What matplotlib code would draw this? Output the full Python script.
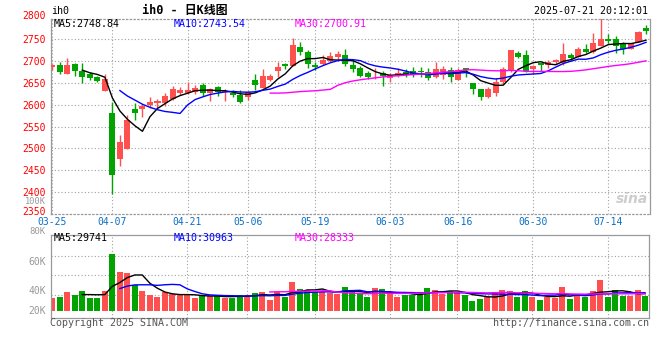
import matplotlib
matplotlib.use('Agg')
import matplotlib.pyplot as plt
import numpy as np
import pandas as pd

plt.rcParams['font.family'] = ['DejaVu Sans Mono', 'Noto Sans CJK SC']
plt.rcParams['font.size'] = 7.2

# trading days 03-25 .. 07-21 (CN holidays removed)
holidays = ['2025-04-04', '2025-05-01', '2025-05-02', '2025-05-05', '2025-06-02']
days = pd.bdate_range('2025-03-25', '2025-07-21').drop(pd.to_datetime(holidays))
tick_dates = ['03-25', '04-07', '04-21', '05-06', '05-19', '06-03', '06-16', '06-30', '07-14']

opens = [2687, 2691, 2671, 2693, 2676, 2670, 2663, 2632, 2581, 2476,
         2499, 2590, 2590, 2600, 2605, 2605, 2614, 2626, 2627, 2628,
         2645, 2627, 2640, 2630, 2626, 2622, 2617, 2656, 2639, 2657,
         2676, 2692, 2689, 2732, 2720, 2691, 2693, 2701, 2708, 2714,
         2691, 2683, 2673, 2672, 2672, 2660, 2666, 2675, 2678, 2676,
         2674, 2663, 2668, 2679, 2657, 2684, 2650, 2636, 2618, 2627,
         2653, 2677, 2718, 2714, 2681, 2695, 2691, 2697, 2696, 2713,
         2710, 2728, 2721, 2735, 2750, 2750, 2739, 2727, 2744, 2776]
highs = [2692, 2698, 2707, 2696, 2695, 2675, 2666, 2670, 2607, 2531,
         2576, 2605, 2601, 2618, 2613, 2627, 2643, 2640, 2652, 2644,
         2650, 2638, 2643, 2636, 2634, 2634, 2632, 2670, 2682, 2671,
         2698, 2696, 2753, 2743, 2725, 2698, 2714, 2720, 2723, 2727,
         2704, 2689, 2678, 2683, 2678, 2672, 2683, 2682, 2687, 2687,
         2685, 2698, 2689, 2687, 2685, 2684, 2650, 2636, 2641, 2662,
         2687, 2725, 2723, 2725, 2691, 2696, 2702, 2704, 2741, 2718,
         2731, 2739, 2765, 2798, 2761, 2757, 2744, 2741, 2769, 2782]
lows = [2680, 2671, 2671, 2666, 2650, 2656, 2651, 2632, 2396, 2460,
        2499, 2565, 2572, 2592, 2592, 2598, 2611, 2622, 2624, 2624,
        2620, 2608, 2620, 2608, 2617, 2605, 2611, 2634, 2638, 2655,
        2664, 2681, 2689, 2714, 2685, 2679, 2691, 2698, 2700, 2689,
        2674, 2663, 2658, 2658, 2643, 2653, 2663, 2664, 2664, 2663,
        2657, 2660, 2659, 2653, 2657, 2663, 2624, 2611, 2615, 2620,
        2647, 2675, 2706, 2675, 2670, 2678, 2683, 2693, 2691, 2702,
        2708, 2718, 2719, 2734, 2741, 2719, 2716, 2727, 2743, 2762]
closes = [2690, 2674, 2691, 2676, 2664, 2660, 2655, 2659, 2439, 2515,
          2565, 2581, 2596, 2606, 2609, 2620, 2635, 2634, 2633, 2638,
          2626, 2636, 2628, 2632, 2622, 2607, 2629, 2645, 2666, 2666,
          2687, 2689, 2737, 2720, 2694, 2687, 2702, 2711, 2716, 2692,
          2682, 2666, 2664, 2673, 2666, 2667, 2673, 2671, 2670, 2674,
          2660, 2682, 2682, 2664, 2679, 2679, 2636, 2617, 2636, 2653,
          2681, 2724, 2710, 2677, 2689, 2691, 2698, 2702, 2717, 2706,
          2728, 2721, 2742, 2751, 2746, 2734, 2727, 2741, 2767, 2769]
volumes = [22000, 23700, 32200, 27100, 33900, 22000, 22000, 33900, 96600, 66100,
           64400, 44100, 33900, 27100, 23700, 32200, 28800, 27100, 27100, 22000,
           25400, 25400, 27100, 22000, 22000, 27100, 27100, 30500, 32200, 18600,
           32200, 24200, 49200, 37300, 35600, 32200, 32200, 30000, 28800, 40700,
           35600, 28800, 23700, 39000, 37300, 28800, 23700, 27100, 27100, 32200,
           39000, 35600, 28800, 33900, 32200, 27100, 16900, 20300, 23700, 30500,
           35600, 33900, 23700, 33900, 23700, 18600, 23700, 22000, 40700, 20300,
           28800, 23700, 33900, 52500, 23700, 35600, 25400, 25400, 35600, 25400]

o = np.array(opens, float)
h = np.array(highs, float)
l = np.array(lows, float)
c = np.array(closes, float)
v = np.array(volumes, float)
x = np.arange(len(days))
labels = list(days.strftime('%m-%d'))
tick_idx = [labels.index(d) for d in tick_dates]

UP, DOWN = '#ff5050', '#00a300'
cols = np.where(c >= o, UP, DOWN)
GRID = '#a0a0a0'
DOT = (0, (1, 2))

W, H = 660, 360
def fx(px):
    return px / W
def fy(py):
    return 1 - py / H

fig = plt.figure(figsize=(6.6, 3.6), dpi=100)
ax = fig.add_axes([fx(51), fy(214), 599 / W, 195 / H])
axv = fig.add_axes([fx(51), fy(317.7), 598 / W, 83 / H])

# ---- price panel
for t in tick_idx:
    ax.axvline(t, color=GRID, lw=0.8, ls=DOT, zorder=0)
for p in range(2400, 2800, 50):
    ax.axhline(p, color=GRID, lw=0.8, ls=DOT, zorder=0)

ax.vlines(x, l, h, colors=cols, lw=1.0, zorder=2)
ax.bar(x, np.maximum(np.abs(c - o), 1.6), bottom=np.minimum(o, c), width=0.8,
       color=cols, linewidth=0, zorder=3)

cs = pd.Series(c)
ax.plot(x, cs.rolling(5).mean(), color='black', lw=1.0, zorder=4)
ax.plot(x, cs.rolling(10).mean(), color='#0000ff', lw=1.0, zorder=4)
ax.plot(x, cs.rolling(30).mean(), color='#ff00ff', lw=1.0, zorder=4)

ax.set_xlim(-0.17, 79.53)
ax.set_ylim(2350, 2796)
ax.set_yticks(range(2400, 2800, 50))
ax.tick_params(axis='y', length=0, pad=3.6, colors='red', labelsize=7.0)
ax.set_xticks(tick_idx, tick_dates)
ax.tick_params(axis='x', length=0, pad=2.0, colors='#0a6fc4', labelsize=7.0)
for s in ax.spines.values():
    s.set_color('#999999')
    s.set_linewidth(0.9)
ax.spines['top'].set_linestyle(DOT)
ax.spines['bottom'].set_linestyle(DOT)

# ---- volume panel
for t in tick_idx[1:]:
    axv.axvline(t, color=GRID, lw=0.8, ls=DOT, zorder=0)
for q in [93700, 60500, 27300]:
    axv.axhline(q, color=GRID, lw=0.8, ls=DOT, zorder=0)
axv.bar(x, v, width=0.8, color=cols, linewidth=0, zorder=2)
vs = pd.Series(v)
axv.plot(x, vs.rolling(5).mean(), color='black', lw=1.0, zorder=3)
axv.plot(x, vs.rolling(10).mean(), color='#0000ff', lw=1.0, zorder=3)
axv.plot(x, vs.rolling(30).mean(), color='#ff00ff', lw=1.0, zorder=3)
axv.set_xlim(-0.17, 79.53)
axv.set_ylim(-11400, 129300)
axv.set_xticks([])
axv.set_yticks([])
for s in axv.spines.values():
    s.set_color('#999999')
    s.set_linewidth(0.9)

# ---- texts
fig.text(fx(51), fy(11), 'ih0', ha='left', va='center', color='black')
fig.text(fx(185), fy(10.5), 'ih0 - 日K线图', ha='center', va='center',
         fontsize=8.6, fontweight='bold', color='black')
fig.text(fx(648), fy(11), '2025-07-21 20:12:01', ha='right', va='center', color='black')

fig.text(fx(54), fy(23.7), 'MA5:2748.84', ha='left', va='center', color='black')
fig.text(fx(174), fy(23.7), 'MA10:2743.54', ha='left', va='center', color='#0000ff')
fig.text(fx(295), fy(23.7), 'MA30:2700.91', ha='left', va='center', color='#ff00ff')

fig.text(fx(46), fy(16), '2800', ha='right', va='center', color='red', fontsize=7.0)
fig.text(fx(46), fy(211.8), '2350', ha='right', va='center', color='red', fontsize=7.0)
fig.text(fx(46), fy(202), '100K', ha='right', va='center', color='#999999', fontsize=6.2)
fig.text(fx(46), fy(231.5), '80K', ha='right', va='center', color='#999999', fontsize=6.4)
for lab, py in [('60K', 261.7), ('40K', 291), ('20K', 310.7)]:
    fig.text(fx(46), fy(py), lab, ha='right', va='center', color='#999999', fontsize=7.0)

fig.text(fx(54), fy(238.3), 'MA5:29741', ha='left', va='center', color='black')
fig.text(fx(174), fy(238.3), 'MA10:30963', ha='left', va='center', color='#0000ff')
fig.text(fx(295), fy(238.3), 'MA30:28333', ha='left', va='center', color='#ff00ff')

fig.text(fx(50), fy(323.5), 'Copyright 2025 SINA.COM', ha='left', va='center', color='#555555')
fig.text(fx(649), fy(323.5), 'http://finance.sina.com.cn', ha='right', va='center', color='#555555')

fig.text(fx(632), fy(199), 'sina', ha='center', va='center', fontsize=10, fontweight='bold',
         fontstyle='italic', family='DejaVu Sans', color='#c8c8c8', alpha=0.9)

fig.savefig('out.png', dpi=100, facecolor='white')
